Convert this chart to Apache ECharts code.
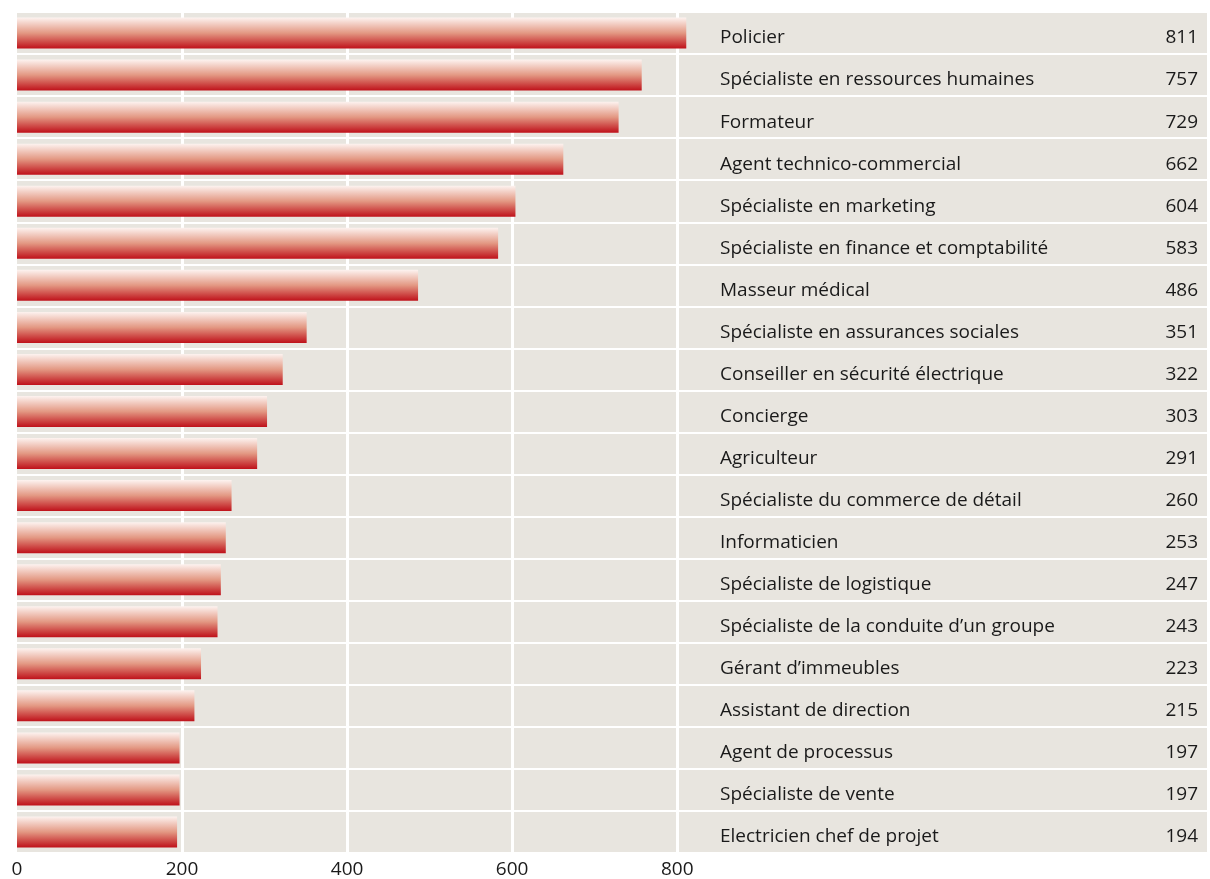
<!DOCTYPE html>
<html lang="fr">
<head>
  <meta charset="UTF-8">
  <title>Professions</title>
  <style>
    html, body { margin: 0; padding: 0; background: #fff; }
    #main { width: 1210px; height: 879px; }
  </style>
</head>
<body>
  <div id="main"></div>
  <script src="https://cdn.jsdelivr.net/npm/echarts@6/dist/echarts.min.js"></script>
  <script>
    var professions = [
      'Policier',
      'Spécialiste en ressources humaines',
      'Formateur',
      'Agent technico-commercial',
      'Spécialiste en marketing',
      'Spécialiste en finance et comptabilité',
      'Masseur médical',
      'Spécialiste en assurances sociales',
      'Conseiller en sécurité électrique',
      'Concierge',
      'Agriculteur',
      'Spécialiste du commerce de détail',
      'Informaticien',
      'Spécialiste de logistique',
      'Spécialiste de la conduite d’un groupe',
      'Gérant d’immeubles',
      'Assistant de direction',
      'Agent de processus',
      'Spécialiste de vente',
      'Electricien chef de projet'
    ];
    var counts = [811, 757, 729, 662, 604, 583, 486, 351, 322, 303, 291, 260, 253, 247, 243, 223, 215, 197, 197, 194];
    var gridValues = [200, 400, 600, 800];

    var font = '"Open Sans", "Noto Sans", sans-serif';
    var chart = echarts.init(document.getElementById('main'));

    chart.setOption({
      animation: false,
      grid: {
        left: 17, right: 0, top: 12, bottom: 25,
        show: true, backgroundColor: '#e8e5df', borderWidth: 0
      },
      xAxis: {
        type: 'value',
        min: 0,
        max: 1442,
        interval: 200,
        axisLine: { show: false },
        axisTick: { show: false },
        splitLine: { show: false },
        axisLabel: {
          margin: 7,
          color: '#1a1a1a',
          fontFamily: font,
          fontSize: 19,
          formatter: function (v) { return v <= 800 ? String(v) : ''; }
        }
      },
      yAxis: [{
        type: 'category',
        data: professions,
        inverse: true,
        axisLine: { show: false },
        axisTick: { show: false },
        splitLine: { show: true, lineStyle: { color: '#ffffff', width: 2 } },
        axisLabel: {
          inside: true,
          margin: 703,
          verticalAlign: 'top',
          lineHeight: 10,
          color: '#1a1a1a',
          fontFamily: font,
          fontSize: 19
        }
      }, {
        type: 'category',
        position: 'right',
        data: counts.map(String),
        inverse: true,
        axisLine: { show: false },
        axisTick: { show: false },
        splitLine: { show: false },
        axisLabel: {
          inside: true,
          margin: 9,
          verticalAlign: 'top',
          lineHeight: 10,
          color: '#1a1a1a',
          fontFamily: font,
          fontSize: 19
        }
      }],
      series: [{
        type: 'bar',
        data: counts,
        barWidth: 31,
        clip: false,
        itemStyle: {
          color: new echarts.graphic.LinearGradient(0, 0, 0, 1, [
            { offset: 0, color: '#fdf3f0' },
            { offset: 0.5, color: '#e39883' },
            { offset: 1, color: '#bf111a' }
          ])
        },
        markLine: {
          silent: true,
          symbol: 'none',
          label: { show: false },
          lineStyle: { color: '#ffffff', width: 3, type: 'solid' },
          z: 1,
          data: gridValues.map(function (v) { return { xAxis: v }; })
        }
      }]
    });
  </script>
</body>
</html>
